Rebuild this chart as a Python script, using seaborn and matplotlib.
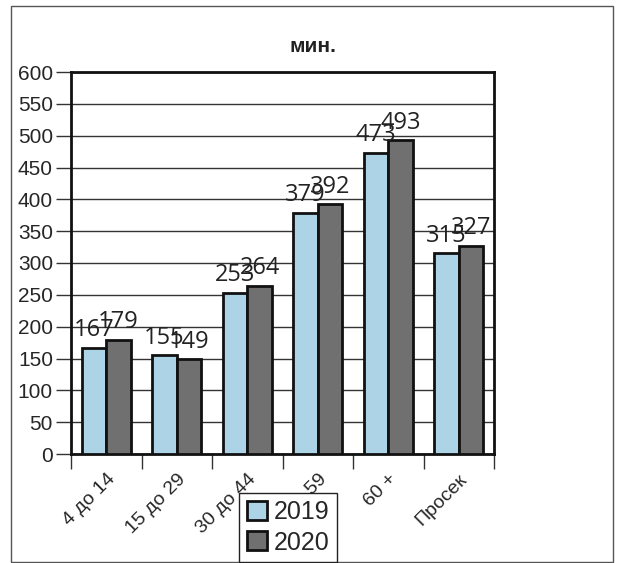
import pandas as pd
import seaborn as sns
import matplotlib.pyplot as plt
from matplotlib import font_manager
from matplotlib.patches import Rectangle

categories = ["4 до 14", "15 до 29", "30 до 44", "45 до 59", "60 +", "Просек"]
years = ["2019", "2020"]
values_2019 = [167, 155, 253, 379, 473, 315]
values_2020 = [179, 149, 264, 392, 493, 327]
yticks = list(range(0, 601, 50))

d = pd.DataFrame({
    "group": categories * 2,
    "year": [years[0]] * len(categories) + [years[1]] * len(categories),
    "min": values_2019 + values_2020,
})

sns.set_style("white")
names = {f.name for f in font_manager.fontManager.ttflist}
narrow = "Liberation Sans Narrow" if "Liberation Sans Narrow" in names else "Liberation Sans"
plt.rcParams["font.family"] = ["Liberation Sans", "DejaVu Sans"]

fig = plt.figure(figsize=(6.18, 5.63), dpi=100)
ax = fig.add_axes([71 / 618, 1 - 454 / 563, (494 - 71) / 618, (454 - 72) / 563])

sns.barplot(
    data=d, x="group", y="min", hue="year",
    palette=["#a3d6f0", "#707070"], width=0.7, gap=0,
    edgecolor="#111111", linewidth=2, legend=True, ax=ax, zorder=3,
)

for c in ax.containers:
    ax.bar_label(c, fontsize=17, padding=4, family=["Open Sans", "DejaVu Sans"],
                 color="#222222", zorder=5)

ax.set_ylim(0, 600)
ax.set_xlim(-0.5, len(categories) - 0.5)
ax.set_yticks(yticks)
ax.set_yticklabels([str(v) for v in yticks], family=[narrow, "DejaVu Sans"], fontsize=15)
ax.yaxis.grid(True, color="#333333", linewidth=1)
ax.set_axisbelow(True)

# category ticks sit at the boundaries between groups
ax.set_xticks([i + 0.5 for i in range(-1, len(categories))], minor=False)
ax.set_xticklabels([])
ax.set_xticks(range(len(categories)), minor=True)
ax.set_xticklabels(categories, minor=True, rotation=45, ha="right",
                   rotation_mode="anchor", fontsize=14, family=[narrow, "DejaVu Sans"])
ax.tick_params(axis="x", which="major", length=11, width=1, color="#333333", direction="out", bottom=True)
ax.tick_params(axis="x", which="minor", length=0, pad=12)
ax.tick_params(axis="y", length=11, width=1, color="#333333", direction="out", left=True, pad=2)
for s in ax.spines.values():
    s.set_color("#111111")
    s.set_linewidth(2)

ax.set_xlabel("")
ax.set_ylabel("")
fig.text(313 / 618, 1 - 46 / 563, "мин.", ha="center", va="center",
         fontsize=15, fontweight="bold", family=["Liberation Sans", "DejaVu Sans"],
         color="#222222")

handles, labels = ax.get_legend_handles_labels()
ax.get_legend().remove()
leg = fig.legend(handles, labels, loc="lower left", bbox_to_anchor=(239 / 618, 1 / 563),
                 frameon=True, fancybox=False, framealpha=1, edgecolor="#222222",
                 fontsize=18, handlelength=0.8, handleheight=0.8, handletextpad=0.3,
                 borderpad=0.3, labelspacing=0.25, borderaxespad=0)
leg.get_frame().set_linewidth(1)
leg.set_zorder(10)

fig.patches.append(Rectangle((11 / 618, 1 / 563), (613 - 11) / 618, (557 - 1) / 563,
                             transform=fig.transFigure, fill=False,
                             edgecolor="#555555", linewidth=1))

fig.savefig("out.png", dpi=100)
